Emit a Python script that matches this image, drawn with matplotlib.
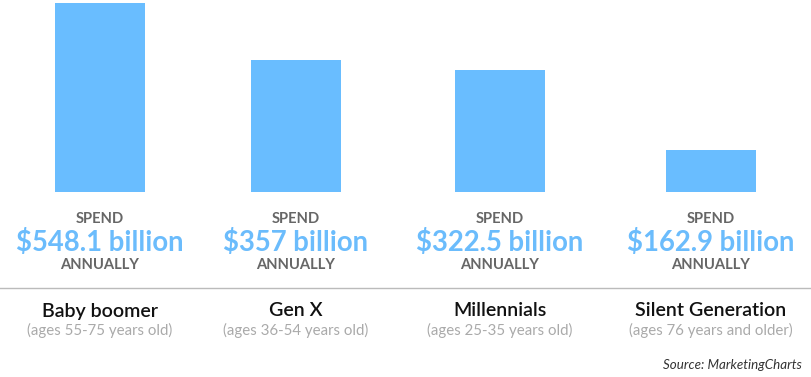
import matplotlib
matplotlib.use("Agg")
import matplotlib.pyplot as plt

categories = ["Baby boomer", "Gen X", "Millennials", "Silent Generation"]
age_ranges = ["(ages 55-75 years old)", "(ages 36-54 years old)",
              "(ages 25-35 years old)", "(ages 76 years and older)"]
spend_labels = ["$548.1 billion", "$357 billion", "$322.5 billion", "$162.9 billion"]
# bar heights as drawn in the picture (not to scale with values)
bar_heights = [189, 132, 122, 42]

W, H = 812, 377
DPI = 100
fig = plt.figure(figsize=(W / DPI, H / DPI), dpi=DPI)
fig.patch.set_facecolor("white")

FONT = "Lato"
BLUE = "#69bdff"
TXTBLUE = "#6bbcfc"

centers = [100, 296, 500, 711]
bar_w = 90
bar_bottom_px = 192

# bar axes: spans top of figure to bar baseline
ax = fig.add_axes([0, (H - bar_bottom_px) / H, 1, bar_bottom_px / H])
ax.set_xlim(0, W)
ax.set_ylim(0, bar_bottom_px)
ax.bar(centers, bar_heights, width=bar_w, color=BLUE, linewidth=0)
ax.axis("off")

def fy(py):
    return (H - py) / H

def fx(px):
    return px / W

for c, cat, age, lab in zip(centers, categories, age_ranges, spend_labels):
    fig.text(fx(c), fy(222.7), "SPEND", ha="center", va="baseline",
             fontsize=10.6, color="#666666", fontweight="bold", family=FONT)
    fig.text(fx(c), fy(251), lab, ha="center", va="baseline",
             fontsize=19.8, color=TXTBLUE, fontweight="bold", family=FONT)
    fig.text(fx(c), fy(269.3), "ANNUALLY", ha="center", va="baseline",
             fontsize=10.6, color="#666666", fontweight="bold", family=FONT)
    fig.text(fx(c), fy(316.5), cat, ha="center", va="baseline",
             fontsize=14.1, color="#111111", fontweight="semibold", family=FONT)
    fig.text(fx(c), fy(334.5), age, ha="center", va="baseline",
             fontsize=10.8, color="#aaaaaa", family=FONT)

# divider line
fig.add_artist(plt.Line2D([0, 1], [fy(288.3), fy(288.3)], color="#bbbbbb",
                          linewidth=1.0, transform=fig.transFigure))

fig.text(fx(802), fy(369), "Source: MarketingCharts", ha="right", va="baseline",
         fontsize=9.6, color="#333333", style="italic", family=FONT)

fig.savefig("out.png", dpi=DPI, facecolor="white")
